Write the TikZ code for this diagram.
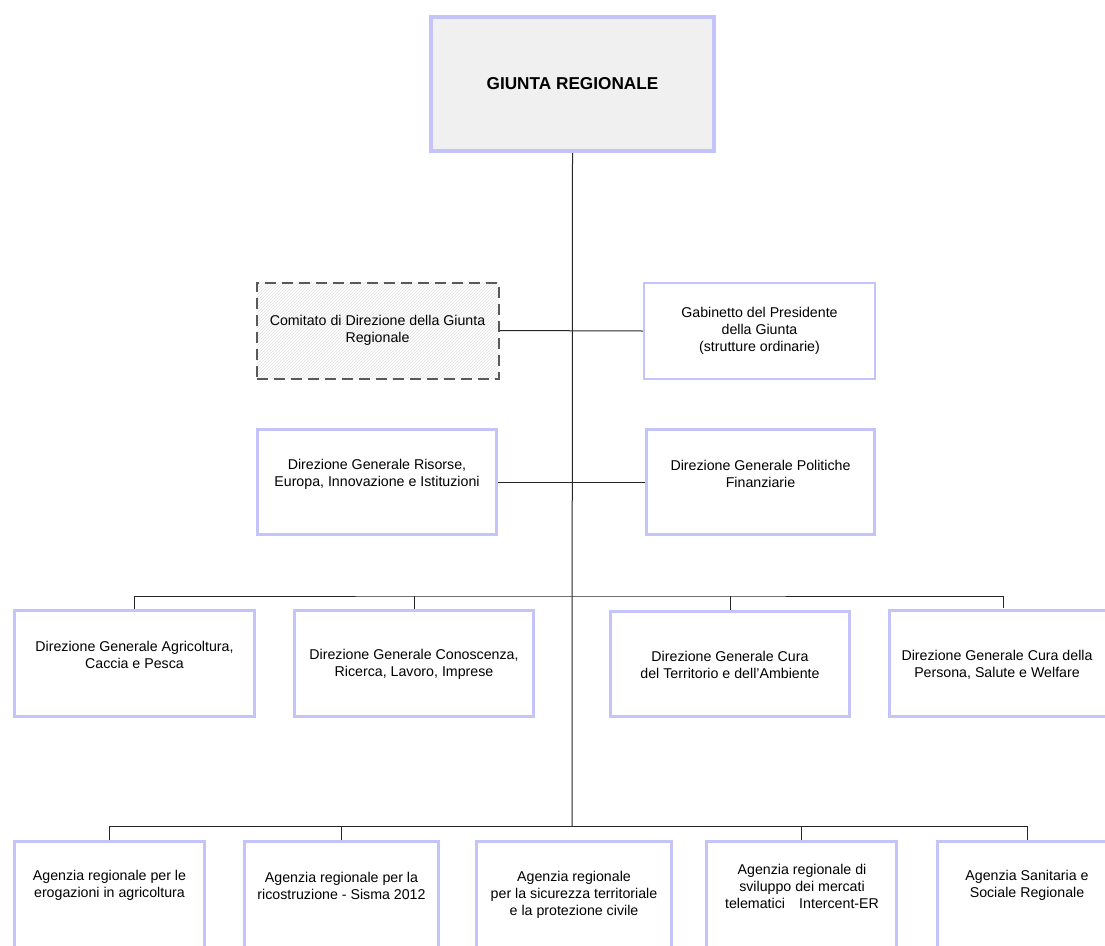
\documentclass[tikz,border=0pt]{standalone}
\usepackage{fontspec}
\setmainfont{Liberation Sans}
\usetikzlibrary{positioning,patterns}
\definecolor{lavender}{HTML}{C4C4FA}
\definecolor{headfill}{HTML}{F0F0F0}

\begin{document}
\begin{tikzpicture}[x=1pt, y=-1pt,
    box/.style={draw=lavender, line width=3pt, fill=white, inner sep=0pt, align=center, font=\fontsize{14.2}{17}\selectfont},
    head/.style={box, line width=4pt, fill=headfill, font=\fontsize{17.2}{19}\selectfont\bfseries},
    thinbox/.style={box, line width=2pt},
    dashbox/.style={draw=black!65, line width=2pt, dash pattern=on 11pt off 6pt, pattern=north east lines, pattern color=black!12, align=center, inner sep=0pt, font=\fontsize{14.2}{17}\selectfont},
    lbl/.style={align=center, inner sep=0pt, font=\fontsize{14.2}{17}\selectfont},
    link/.style={draw=black!85, line width=1pt}
  ]
    \useasboundingbox (0,0) rectangle (1105,945);
    \node[head, minimum width=283pt, minimum height=134pt] (giunta) at (572.5,84) {GIUNTA REGIONALE};
    \node[dashbox, minimum width=242pt, minimum height=96pt] (comitato) at (377.5,330.5) {Comitato di Direzione della Giunta\\Regionale};
    \node[thinbox, minimum width=231pt, minimum height=96pt] (gabinetto) at (759.5,331) {Gabinetto del Presidente\\della Giunta\\(strutture ordinarie)};
    \node[box, minimum width=239pt, minimum height=105pt] (risorse) at (377,482) {};
    \node[box, minimum width=228pt, minimum height=105pt] (politiche) at (760.5,482) {};
    \node[lbl] (risorseT) at (377,474) {Direzione Generale Risorse,\\Europa, Innovazione e Istituzioni};
    \node[lbl] (politicheT) at (760.5,474) {Direzione Generale Politiche\\Finanziarie};

    \node[box, minimum width=240pt, minimum height=106pt] (agricoltura) at (134.5,663.5) {};
    \node[box, minimum width=239pt, minimum height=106pt] (conoscenza) at (414,663.5) {};
    \node[box, minimum width=239pt, minimum height=105pt] (territorio) at (730,664) {};
    \node[box, minimum width=240pt, minimum height=106pt] (persona) at (1009.5,663.5) {};
    \node[lbl] (agricolturaT) at (134.5,654.5) {Direzione Generale Agricoltura,\\Caccia e Pesca};
    \node[lbl] (conoscenzaT) at (414,664.5) {Direzione Generale Conoscenza,\\Ricerca, Lavoro, Imprese};
    \node[lbl] (territorioT) at (730,665) {Direzione Generale Cura\\del Territorio e dell'Ambiente};
    \node[lbl] (personaT) at (997,665) {Direzione Generale Cura della\\Persona, Salute e Welfare};

    \node[box, minimum width=190pt, minimum height=122pt] (erogazioni) at (109.5,902.5) {};
    \node[box, minimum width=194pt, minimum height=122pt] (ricostruzione) at (341.5,902.5) {};
    \node[box, minimum width=195pt, minimum height=122pt] (sicurezza) at (574,902.5) {};
    \node[box, minimum width=190pt, minimum height=122pt] (intercent) at (801.5,902.5) {};
    \node[box, minimum width=191pt, minimum height=122pt] (sanitaria) at (1033,902.5) {};
    \node[lbl] (erogazioniT) at (109.5,885.5) {Agenzia regionale per le\\erogazioni in agricoltura};
    \node[lbl] (ricostruzioneT) at (341.5,885.5) {Agenzia regionale per la\\ricostruzione - Sisma 2012};
    \node[lbl] (sicurezzaT) at (574,895) {Agenzia regionale\\per la sicurezza territoriale\\e la protezione civile};
    \node[lbl] (intercentT) at (802,886) {Agenzia regionale di\\sviluppo dei mercati\\telematici\quad Intercent-ER};
    \node[lbl] (sanitariaT) at (1027,885.5) {Agenzia Sanitaria e\\Sociale Regionale};

    \coordinate (bus3) at (572,596);
    \coordinate (bus4) at (572,826);
    \draw[link] (giunta.south) -- (bus4);
    \draw[link] (comitato.east) -- (gabinetto.west);
    \draw[link] (risorse.east) -- (politiche.west);
    \draw[link] (agricoltura.north) |- (bus3) -| (1003,596) -- (1003,607.5);
    \draw[link] (conoscenza.north) -- (conoscenza.north |- bus3);
    \draw[link] (territorio.north) -- (territorio.north |- bus3);
    \draw[link] (erogazioni.north) |- (bus4) -| (sanitaria.north -| 1027,0);
    \draw[link] (ricostruzione.north) -- (ricostruzione.north |- bus4);
    \draw[link] (intercent.north) -- (intercent.north |- bus4);
  \end{tikzpicture}
\end{document}
